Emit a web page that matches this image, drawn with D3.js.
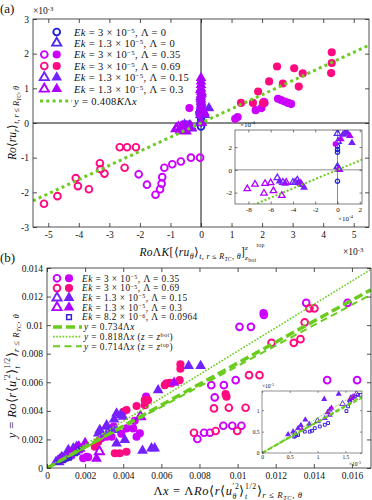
<!DOCTYPE html>
<html><head><meta charset="utf-8">
<script src="https://cdn.jsdelivr.net/npm/d3@7"></script>
<style>body{margin:0;background:#fff}svg{display:block}</style>
</head><body><script>
// ---------- DATA (units of 1e-3) ----------
// Panel (a): [x, y] pairs
const aEk3L0H  = [[0,0.155],[0,0.178],[0,0.207],[0,0.02],[0,-0.10]];
const aEk13L0H = [[0,0.03],[0.005,0.25],[0,0.32],[0.01,0.42],[-0.01,0.37]];
const aL035H = [[-2.04,-1.48],[-1.77,-1.78],[-1.49,-2.07],[-1.34,-1.91],[-1.29,-1.75],[-1.27,-1.56],[-1.20,-1.29],[-0.94,-1.19],[-0.66,-1.11],[-0.33,-1.0],[-0.03,-1.0]];
const aL035F = [[-0.38,0.43],[-0.02,0.228],[1.12,0.12],[1.2,0.17],[1.79,0.37],[1.98,0.43],[2.06,0.61],[2.08,0.58],[2.52,0.70],[2.62,0.66],[2.74,0.62],[2.85,0.58],[2.95,0.55]];
const aL069H = [[-5.14,-2.33],[-4.70,-2.11],[-4.10,-1.59],[-4.03,-1.82],[-3.67,-1.91],[-3.31,-1.16],[-3.29,-1.33],[-3.16,-1.46],[-2.66,-0.70],[-2.42,-0.70],[-2.13,-0.70],[-2.50,-1.29]];
const aL069F = [[4.28,2.04],[4.28,1.73],[4.26,1.44],[2.49,1.63],[3.05,1.58],[3.33,1.43],[3.20,1.05],[2.68,1.14],[2.23,1.20],[1.87,0.91],[1.31,0.58],[1.70,0.58],[2.03,0.58]];
const aL015H = [[-0.54,-0.07],[-0.49,-0.11],[-0.40,-0.11],[-0.38,-0.11],[-0.36,-0.09]];
const aL015F = [[-0.35,-0.11],[-0.32,-0.13],[-0.30,-0.155],[-0.52,-0.10],[-0.47,-0.12],[0.05,0.31],[0.07,0.33],[0.09,0.32],[0.13,0.237],[0.02,0.0],[0,0.45],[0.01,0.55],[0,0.65],[-0.01,0.75],[0.26,0.43]];
const aL03H = [[-0.81,-0.167],[-0.74,-0.126],[-0.66,-0.205],[-0.65,-0.12],[-0.60,-0.114],[-0.575,-0.184],[-0.50,-0.225],[-0.46,-0.11],[-0.33,-0.12]];
const aL03F = [[0.03,0.27],[0.11,0.30],[0,0.40],[0,0.50],[0,0.60],[-0.01,0.70],[0,0.80],[0.01,0.90],[0,1.00],[0,1.10],[0,1.20],[0,1.30],[0.02,0.85],[-0.02,0.95],[0.005,0.0]];
const aSlope = 0.408;

// Panel (b)
const bL035H = [[10.1,9.88],[10.7,9.88],[11.38,10.72],[13.6,11.56],[15.77,11.56],[8.62,5.8],[9.28,5.8],[8.8,4.94],[9.9,6.15],[14.7,6.15],[16.27,6.15],[7.89,2.03],[8.24,2.47],[8.55,2.47],[9.25,2.96],[9.72,2.96],[10.2,2.96]];
const bL035F = [[11.36,10.85],[4.17,2.77],[4.52,2.77],[2.86,2.08],[3.13,2.19],[3.39,2.19],[2.08,0.79],[1.9,0.68],[2.16,0.75],[4.87,2.43],[4.7,2.19],[5.2,5.0],[4.6,3.3],[3.5,2.9],[3.9,2.4]];
const bL069H = [[7.71,2.47],[8.85,2.59],[9.98,2.59],[8.76,4.17],[9.54,4.22],[10.42,4.22],[10.6,6.5],[11.15,6.5],[11.78,8.76],[12.95,8.76],[13.3,9.02],[13.52,10.19],[13.77,11.17],[14.03,11.17]];
const bL069F = [[7.0,7.25],[7.0,6.95],[6.27,5.92],[6.44,5.97],[6.18,5.8],[6.53,5.92],[6.96,6.15],[5.13,4.75],[5.3,4.75],[5.13,4.4],[4.7,4.34],[3.56,1.03],[3.82,1.03],[4.17,1.14],[2.69,1.84],[2.51,1.49],[9.37,5.17],[9.42,4.99],[4.0,3.94],[4.17,4.06]];
const bL015H = [[0.6,0.45],[1.0,0.75],[1.45,1.15]];
const bL015F = [[7.43,7.15],[8.06,7.15],[5.83,5.45],[3.65,3.82],[3.87,3.7],[3.99,3.59],[3.52,3.4],[3.13,2.89],[3.56,2.66],[3.21,2.54],[3.65,1.73],[4.08,1.96],[5.01,1.21],[5.48,1.38],[5.65,1.38],[2.69,2.42],[2.77,2.66],[3.13,3.0],[1.12,1.26],[1.38,1.38],[1.55,1.49],[0.85,0.68],[0.78,0.78],[0.65,0.58],[0.56,0.50],[0.47,0.43],[1.22,1.01],[1.22,0.89],[1.13,0.81],[0.7,0.65],[1.6,1.3]];
const bL03H = [[4.9,3.6],[2.75,1.15],[1.7,1.38]];
const bL03F = [[6.67,5.97],[2.6,0.65],[1.65,1.5],[2.0,1.75],[1.58,1.24],[1.61,1.28],[1.64,1.32],[0.72,0.55],[1.25,1.05],[1.18,0.95]];
const bSq = [[0.58,0.38],[0.6,0.4],[0.65,0.42],[0.77,0.50],[0.86,0.50],[0.9,0.52],[0.95,0.58],[1.04,0.62],[1.13,0.66],[1.19,0.70],[1.52,0.98],[1.55,1.09],[1.58,1.2],[1.67,1.32],[1.73,1.36],[1.78,1.36]];
const bSlopes = [0.734, 0.818, 0.714];

// ticks
const aXTicks = [-5,-4,-3,-2,-1,0,1,2,3,4,5];
const aYTicks = [-3,-2,-1,0,1,2,3];
const aiXTicks = [-8,-6,-4,-2,0,2];
const aiYTicks = [-2,0,2];
const bXTicks = [0,2,4,6,8,10,12,14,16];
const bYTicks = [0,2,4,6,8,10,12,14];
const biXTicks = [0,0.5,1,1.5];
const biYTicks = [0,0.5,1];

// legend labels: [Ek mantissa, exponent, Lambda]
const aLegend = [["3","5","0"],["1.3","5","0"],["3","5","0.35"],["3","5","0.69"],["1.3","5","0.15"],["1.3","5","0.3"]];
const bLegend = [["3","5","0.35"],["3","5","0.69"],["1.3","5","0.15"],["1.3","5","0.3"],["8.2","6","0.0964"]];

// ---------- STYLE ----------
const C = {blue:"#1f1fdc", bv:"#5028ee", mag:"#cc00ff", pink:"#ff0a80", vio:"#7322ff", pur:"#b000ff", sq:"#3a22e0", green:"#6acc1e", ax:"#262626"};
const SERIF = "'Liberation Serif','Times New Roman',serif";

const svg = d3.select("body").append("svg").attr("width",372).attr("height",500);
const defs = svg.append("defs");
function clip(id,x,y,w,h){defs.append("clipPath").attr("id",id).append("rect").attr("x",x).attr("y",y).attr("width",w).attr("height",h);}

// flags: i italic, ^ sup, _ sub, ^^ supsup, __ subsub, S stacked variant, L low legend sup,
// M start measuring, B go back to mark (stack on previous)
function rich(parent, x, y, parts, size, o) {
  o = o||{};
  const t = parent.append("text").attr("x",x).attr("y",y).style("font-family",SERIF).style("font-size",size+"px").attr("fill","#111");
  if (o.anchor) t.attr("text-anchor",o.anchor);
  if (o.rot) t.attr("transform",`rotate(-90 ${x} ${y})`);
  if (o.ls) t.style("letter-spacing",o.ls+"px");
  let cur=0, since=0, pend=0;
  for (const p of parts) {
    const txt=p[0], f=p[1]||"";
    const st=f.includes("S");
    let shift=0, sc=1;
    if (f.includes("^^")) {shift=st?-0.74:-0.62; sc=0.5;}
    else if (f.includes("__")) {shift=st?0.52:0.42; sc=0.5;}
    else if (f.includes("^")) {shift=st?-0.5:(f.includes("L")?-0.27:-0.36); sc=st?0.62:(f.includes("L")?0.65:0.7);}
    else if (f.includes("_")) {shift=st?0.34:0.22; sc=st?0.62:0.7;}
    const ts = t.append("tspan").text(txt).style("font-size",(size*sc)+"px").attr("dy",(shift-cur)*size);
    cur=shift;
    if (f.includes("i")) ts.style("font-style","italic");
    if (f.includes("M")) since=0;
    let dx = pend; pend=0;
    if (f.includes("B")) { dx -= since; }
    if (dx) ts.attr("dx",dx);
    const L = ts.node().getComputedTextLength();
    if (f.includes("B")) { if (since > L) pend = since - L; since=0; }
    else since += L;
  }
  return t;
}

function frame(g, xs, ys, xt, yt, fx, fy, o) {
  const [x0,x1]=xs.range(), [y0,y1]=ys.range();
  const mk=(gen,tr,fmt)=>{
    const a=g.append("g").attr("transform",tr).call(gen.tickSizeInner(-o.tl).tickSizeOuter(0).tickPadding(o.pad).tickFormat(fmt));
    a.select(".domain").remove();
    a.selectAll("line").attr("stroke",C.ax).attr("stroke-width",o.sw);
    a.selectAll("text").style("font-family",SERIF).style("font-size",o.fs+"px").attr("fill","#111");
    return a;
  };
  mk(d3.axisBottom(xs).tickValues(xt),`translate(0,${y0})`,fx);
  mk(d3.axisTop(xs).tickValues(xt),`translate(0,${y1})`,()=>"");
  mk(d3.axisLeft(ys).tickValues(yt),`translate(${x0},0)`,fy);
  mk(d3.axisRight(ys).tickValues(yt),`translate(${x1},0)`,()=>"");
  g.append("rect").attr("x",x0).attr("y",y1).attr("width",x1-x0).attr("height",y0-y1).attr("fill","none").attr("stroke",C.ax).attr("stroke-width",o.sw);
}

const shapes = {c:d3.symbolCircle, t:d3.symbolTriangle, s:d3.symbolSquare};
function marks(g, data, xs, ys, shape, color, filled, size, sw, k) {
  k = k||1;
  g.selectAll(null).data(data).join("path")
    .attr("transform", d=>`translate(${xs(d[0]*k)},${ys(d[1]*k)})`)
    .attr("d", d3.symbol().type(shapes[shape]).size(size))
    .attr("fill", filled?color:"none")
    .attr("stroke", filled?"none":color)
    .attr("stroke-width", sw);
}
function sizeOf(shape, filled, big){ // marker areas
  if (shape==="c") return big? (filled?52:36) : (filled?22:14);
  if (shape==="t") return big? (filled?50:36) : (filled?26:18);
  return big?22:8;
}

// ============ PANEL (a) ============
const xA=d3.scaleLinear([-5.5,5.5],[33,369]), yA=d3.scaleLinear([-3,3],[227,19]);
const xAi=d3.scaleLinear([-9.2,2.2],[235,362]), yAi=d3.scaleLinear([-3,3.5],[204,130]);
clip("cA",33,19,336,208); clip("cAi",235,130,127,74);
const gA = svg.append("g");
const aSeries = [
  {h:aEk3L0H, f:null, s:"c", c:C.blue},
  {h:aEk13L0H, f:null, s:"t", c:C.bv},
  {h:aL035H, f:aL035F, s:"c", c:C.mag},
  {h:aL069H, f:aL069F, s:"c", c:C.pink},
  {h:aL015H, f:aL015F, s:"t", c:C.vio},
  {h:aL03H, f:aL03F, s:"t", c:C.pur}];
const gAd = gA.append("g").attr("clip-path","url(#cA)");
gAd.append("line").attr("x1",xA(0)).attr("x2",xA(0)).attr("y1",yA(-3)).attr("y2",yA(3)).attr("stroke","#111").attr("stroke-width",1);
gAd.append("line").attr("x1",xA(-5.5)).attr("x2",xA(5.5)).attr("y1",yA(0)).attr("y2",yA(0)).attr("stroke","#111").attr("stroke-width",1);
aSeries.forEach(S=>{
  marks(gAd,S.h,xA,yA,S.s,S.c,false,sizeOf(S.s,false,true),1.9);
  if (S.f) marks(gAd,S.f,xA,yA,S.s,S.c,true,sizeOf(S.s,true,true),0);
});
const lineA = d3.line().x(d=>xA(d)).y(d=>yA(aSlope*d));
gAd.append("path").attr("d",lineA([-5.5,5.5])).attr("fill","none").attr("stroke",C.green).attr("stroke-width",3).attr("stroke-dasharray","3,3.3");
frame(gA,xA,yA,aXTicks,aYTicks,d=>String(d),d=>String(d),{tl:4,pad:4,fs:9.5,sw:0.8});
rich(gA,33,14,[["×10"],["-3","^"]],9.5);
rich(gA,343,255,[["×10"],["-3","^"]],9.5);

// legend (a)
const gLA = gA.append("g");
const aRowY = [32,43,54.5,66,77.5,89];
aSeries.forEach((S,i)=>{
  const y=aRowY[i];
  if (S.f) {
    marks(gLA,[[0,0]],d3.scaleLinear([0,1],[44.3,45.3]),d3.scaleLinear([0,1],[y,y+1]),S.s,S.c,false,sizeOf(S.s,false,true),1.9);
    marks(gLA,[[0,0]],d3.scaleLinear([0,1],[56.7,57.7]),d3.scaleLinear([0,1],[y,y+1]),S.s,S.c,true,sizeOf(S.s,true,true),0);
  } else {
    marks(gLA,[[0,0]],d3.scaleLinear([0,1],[56.7,57.7]),d3.scaleLinear([0,1],[y,y+1]),S.s,S.c,false,sizeOf(S.s,false,true),1.9);
  }
  const L=aLegend[i];
  rich(gLA,74,y+3.6,[["Ek","i"],[" = "+L[0]+" × 10"],["−"+L[1],"^L"],[", Λ = "+L[2]]],10.5,{ls:0.35});
});
gLA.append("line").attr("x1",40).attr("x2",72).attr("y1",101).attr("y2",101).attr("stroke",C.green).attr("stroke-width",3).attr("stroke-dasharray","3,3.3");
rich(gLA,74,104.6,[["y","i"],[" = 0.408"],["K","i"],["Λ"],["x","i"]],10.5,{ls:0.35});

// inset (a)
const gAi = svg.append("g");
gAi.append("rect").attr("x",235).attr("y",130).attr("width",127).attr("height",74).attr("fill","#fff");
const gAid = gAi.append("g").attr("clip-path","url(#cAi)");
gAid.append("line").attr("x1",xAi(0)).attr("x2",xAi(0)).attr("y1",yAi(-3)).attr("y2",yAi(3.5)).attr("stroke","#8c8c8c").attr("stroke-width",1);
gAid.append("line").attr("x1",xAi(-9.2)).attr("x2",xAi(2.2)).attr("y1",yAi(0)).attr("y2",yAi(0)).attr("stroke","#8c8c8c").attr("stroke-width",1);
aSeries.forEach(S=>{
  marks(gAid,S.h,xAi,yAi,S.s,S.c,false,sizeOf(S.s,false,false),1.3,10);
  if (S.f) marks(gAid,S.f,xAi,yAi,S.s,S.c,true,sizeOf(S.s,true,false),0,10);
});
const lineAi = d3.line().x(d=>xAi(d)).y(d=>yAi(aSlope*d));
gAid.append("path").attr("d",lineAi([-9.2,2.2])).attr("fill","none").attr("stroke",C.green).attr("stroke-width",2).attr("stroke-dasharray","2,2");
frame(gAi,xAi,yAi,aiXTicks,aiYTicks,d=>String(d),d=>String(d),{tl:2.5,pad:3,fs:7,sw:0.6});
rich(gAi,240,127,[["×10"],["-4","^"]],7);
rich(gAi,338,221,[["×10"],["-4","^"]],7);

// labels (a)
rich(svg,0,13,[["(a)"]],13);
rich(svg,16,123,[["Ro","i"],["⟨"],["ru","i"],["r","i_"],["⟩"],["t, r","i_"],[" ≤ ","_"],["R","i_"],["TC","i__"],[", θ","i_"]],11.5,{anchor:"middle",rot:true});
rich(svg,202,256,[["Ro","i"],["Λ"],["K","i"],["[⟨"],["ru","i"],["θ","i_"],["⟩"],["t, r","i_"],[" ≤ ","_"],["R","i_"],["TC","i__"],[", θ","i_"],["]"],["z","i_SM"],["bot","__S"],["z","i^SB"],["top","^^S"]],11.5,{anchor:"middle",ls:0.3});

// ============ PANEL (b) ============
const xB=d3.scaleLinear([0,17],[47,371]), yB=d3.scaleLinear([0,14],[468,268]);
const xBi=d3.scaleLinear([0,1.8],[262,362]), yBi=d3.scaleLinear([0,1.45],[453,391]);
clip("cB",47,268,324,200); clip("cBi",262,391,100,62);
const gB = svg.append("g");
const bSeries = [
  {h:bL035H, f:bL035F, s:"c", c:C.mag},
  {h:bL069H, f:bL069F, s:"c", c:C.pink},
  {h:bL015H, f:bL015F, s:"t", c:C.vio},
  {h:bL03H, f:bL03F, s:"t", c:C.pur},
  {h:bSq, f:null, s:"s", c:C.sq}];
const lineStyles = [{w:3.5,d:"9,4"},{w:1.6,d:"1.6,1.6"},{w:2,d:"7,4.5"}];
const lineStylesI = [{w:2,d:"5,2"},{w:1,d:"1,1"},{w:1.2,d:"4,2.5"}];
const gBd = gB.append("g").attr("clip-path","url(#cB)");
bSeries.forEach(S=>{
  marks(gBd,S.h,xB,yB,S.s,S.c,false,S.s==="s"?10:sizeOf(S.s,false,true),S.s==="s"?1.2:1.9);
  if (S.f) marks(gBd,S.f,xB,yB,S.s,S.c,true,sizeOf(S.s,true,true),0);
});
bSlopes.forEach((k,i)=>{
  const ln=d3.line().x(d=>xB(d)).y(d=>yB(k*d));
  gBd.append("path").attr("d",ln([0,17])).attr("fill","none").attr("stroke",C.green).attr("stroke-width",lineStyles[i].w).attr("stroke-dasharray",lineStyles[i].d);
});
const fmtB = d=> d===0?"0":String(+(d/1000).toFixed(3));
frame(gB,xB,yB,bXTicks,bYTicks,fmtB,fmtB,{tl:4,pad:4,fs:9.5,sw:0.8});

// legend (b)
const gLB = gB.append("g");
const bRowY = [278.3,288.1,297.8,307.5,317.2,326.9,336.6,346.3];
bSeries.forEach((S,i)=>{
  const y=bRowY[i];
  if (S.f) {
    marks(gLB,[[0,0]],d3.scaleLinear([0,1],[57,58]),d3.scaleLinear([0,1],[y,y+1]),S.s,S.c,false,sizeOf(S.s,false,true),1.9);
    marks(gLB,[[0,0]],d3.scaleLinear([0,1],[69,70]),d3.scaleLinear([0,1],[y,y+1]),S.s,S.c,true,sizeOf(S.s,true,true),0);
  } else {
    marks(gLB,[[0,0]],d3.scaleLinear([0,1],[69,70]),d3.scaleLinear([0,1],[y,y+1]),S.s,S.c,false,22,1.5);
  }
  const L=bLegend[i];
  rich(gLB,82,y+3.2,[["Ek","i"],[" = "+L[0]+" × 10"],["−"+L[1],"^L"],[", Λ = "+L[2]]],9.3,{ls:0.45});
});
const bLineLab = [
  [["y","i"],[" = "+bSlopes[0]+"Λ"],["x","i"]],
  [["y","i"],[" = "+bSlopes[1]+"Λ"],["x","i"],[" ("],["z","i"],[" = "],["z","i"],["bot","^L"],[")"]],
  [["y","i"],[" = "+bSlopes[2]+"Λ"],["x","i"],[" ("],["z","i"],[" = "],["z","i"],["top","^L"],[")"]]];
bLineLab.forEach((parts,i)=>{
  const y=bRowY[5+i];
  gLB.append("line").attr("x1",53).attr("x2",82).attr("y1",y).attr("y2",y).attr("stroke",C.green).attr("stroke-width",lineStyles[i].w).attr("stroke-dasharray",lineStyles[i].d);
  rich(gLB,84,y+3.2,parts,9.3,{ls:0.45});
});

// inset (b)
const gBi = svg.append("g");
gBi.append("rect").attr("x",262).attr("y",391).attr("width",100).attr("height",62).attr("fill","#fff");
const gBid = gBi.append("g").attr("clip-path","url(#cBi)");
bSeries.forEach(S=>{
  marks(gBid,S.h,xBi,yBi,S.s,S.c,false,S.s==="s"?8:14,1);
  if (S.f) marks(gBid,S.f,xBi,yBi,S.s,S.c,true,16,0);
});
bSlopes.forEach((k,i)=>{
  const ln=d3.line().x(d=>xBi(d)).y(d=>yBi(k*d));
  gBid.append("path").attr("d",ln([0,1.8])).attr("fill","none").attr("stroke",C.green).attr("stroke-width",lineStylesI[i].w).attr("stroke-dasharray",lineStylesI[i].d);
});
frame(gBi,xBi,yBi,biXTicks,biYTicks,d=>String(d),d=>String(d),{tl:2,pad:2.5,fs:5.5,sw:0.5});
rich(gBi,262,388,[["×10"],["-3","^"]],5.5);
rich(gBi,349,466,[["×10"],["-3","^"]],5.5);

// labels (b)
rich(svg,0,262,[["(b)"]],13);
rich(svg,16,376,[["y","i"],[" = "],["Ro","i"],["⟨"],["r","i"],["⟨"],["u","i"],["′2","^SM"],["r","i_SB"],["⟩"],["t","i_SM"],["1/2","^SB"],["⟩"],["r","i_"],[" ≤ ","_"],["R","i_"],["TC","i__"],[", θ","i_"]],12.5,{anchor:"middle",rot:true,ls:0.4});
rich(svg,228,495,[["Λ"],["x","i"],[" = Λ"],["Ro","i"],["⟨"],["r","i"],["⟨"],["u","i"],["′2","^SM"],["θ","i_SB"],["⟩"],["t","i_SM"],["1/2","^SB"],["⟩"],["r","i_"],[" ≤ ","_"],["R","i_"],["TC","i__"],[", θ","i_"]],12.5,{anchor:"middle",ls:0.6});
</script></body></html>
